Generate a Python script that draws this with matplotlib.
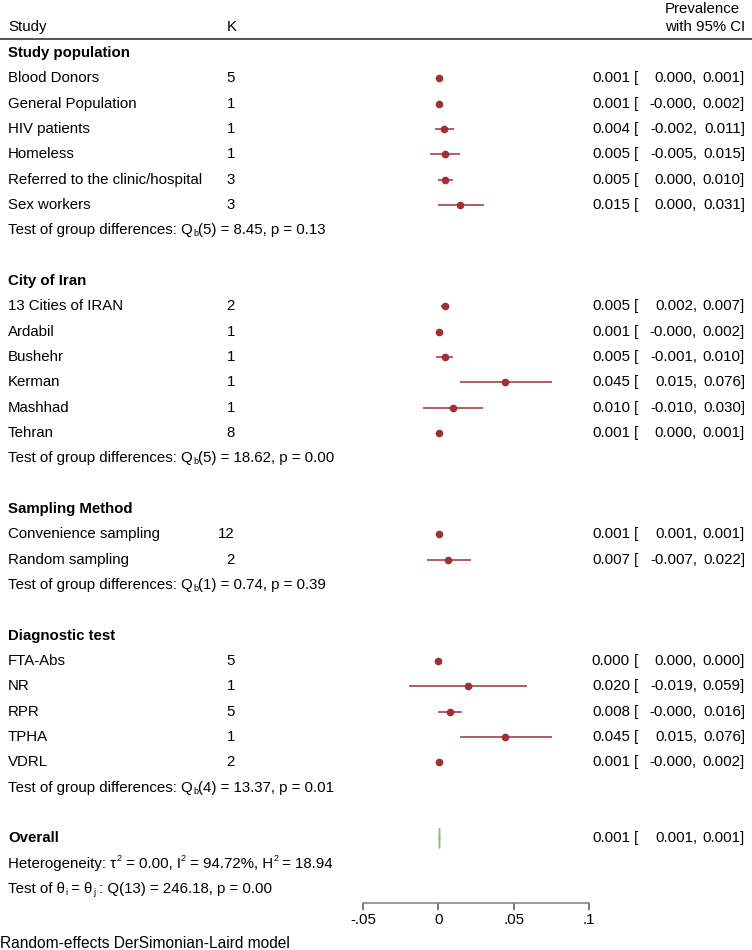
import matplotlib
matplotlib.use('Agg')
import matplotlib.pyplot as plt
from matplotlib.patches import Polygon

plt.rcParams['font.family'] = ['Liberation Sans', 'DejaVu Sans']

# subgroups of the forest plot
group_names = ['Study population', 'City of Iran', 'Sampling Method', 'Diagnostic test']

pop_labels = ['Blood Donors', 'General Population', 'HIV patients', 'Homeless',
              'Referred to the clinic/hospital', 'Sex workers']
pop_k = [5, 1, 1, 1, 3, 3]
pop_est = [0.001, 0.001, 0.004, 0.005, 0.005, 0.015]
pop_lo = ['0.000', '-0.000', '-0.002', '-0.005', '0.000', '0.000']
pop_hi = [0.001, 0.002, 0.011, 0.015, 0.010, 0.031]

city_labels = ['13 Cities of IRAN', 'Ardabil', 'Bushehr', 'Kerman', 'Mashhad', 'Tehran']
city_k = [2, 1, 1, 1, 1, 8]
city_est = [0.005, 0.001, 0.005, 0.045, 0.010, 0.001]
city_lo = ['0.002', '-0.000', '-0.001', '0.015', '-0.010', '0.000']
city_hi = [0.007, 0.002, 0.010, 0.076, 0.030, 0.001]

samp_labels = ['Convenience sampling', 'Random sampling']
samp_k = [12, 2]
samp_est = [0.001, 0.007]
samp_lo = ['0.001', '-0.007']
samp_hi = [0.001, 0.022]

diag_labels = ['FTA-Abs', 'NR', 'RPR', 'TPHA', 'VDRL']
diag_k = [5, 1, 5, 1, 2]
diag_est = [0.000, 0.020, 0.008, 0.045, 0.001]
diag_lo = ['0.000', '-0.019', '-0.000', '0.015', '-0.000']
diag_hi = [0.000, 0.059, 0.016, 0.076, 0.002]

# Qb(df) = value, p = value
group_df = [5, 5, 1, 4]
group_qb = ['8.45', '18.62', '0.74', '13.37']
group_p = ['0.13', '0.00', '0.39', '0.01']

overall_est, overall_lo, overall_hi = 0.001, '0.001', 0.001

groups = [
    (pop_labels, pop_k, pop_est, pop_lo, pop_hi),
    (city_labels, city_k, city_est, city_lo, city_hi),
    (samp_labels, samp_k, samp_est, samp_lo, samp_hi),
    (diag_labels, diag_k, diag_est, diag_lo, diag_hi),
]

W, H = 752, 950
fig = plt.figure(figsize=(W / 100, H / 100), dpi=100)
ax = fig.add_axes([0, 0, 1, 1])
ax.axis('off')

# pixel -> data mapping
x0, scale = 438, 1500.0
y0, step = 53, 25.33
ax.set_xlim(-x0 / scale, (W - x0) / scale)
ax.set_ylim((H - y0) / step, -y0 / step)

def px(x):
    return (x - x0) / scale

red = '#9e3036'
fs = 10.8
small = 6.5

def rich(x, y, parts):
    # parts: list of (string, kind) with kind 'n', 'sub' or 'sup'
    base = ax.text(x, y, parts[0][0], ha='left', va='center', fontsize=fs)
    prev = base
    for s, kind in parts[1:]:
        if kind == 'n':
            prev = ax.annotate(s, xy=(1, 0.5), xycoords=(prev, base),
                               ha='left', va='center', fontsize=fs)
        elif kind == 'sub':
            prev = ax.annotate(s, xy=(1, 0.5), xycoords=(prev, base),
                               xytext=(0.3, -2.6), textcoords='offset points',
                               ha='left', va='center', fontsize=small)
        else:
            prev = ax.annotate(s, xy=(1, 0.5), xycoords=(prev, base),
                               xytext=(0.3, 3.6), textcoords='offset points',
                               ha='left', va='center', fontsize=small)
    return base

def ci_text(row, est, lo, hi):
    ax.text(px(630), row, f'{est:.3f}', ha='right', va='center', fontsize=fs)
    ax.text(px(634), row, '[', ha='left', va='center', fontsize=fs)
    ax.text(px(697), row, lo + ',', ha='right', va='center', fontsize=fs)
    ax.text(px(745), row, f'{hi:.3f}]', ha='right', va='center', fontsize=fs)

# header
ax.text(px(8), (27 - y0) / step, 'Study', ha='left', va='center', fontsize=fs)
ax.text(px(227), (27 - y0) / step, 'K', ha='left', va='center', fontsize=fs)
ax.text(px(702), (9 - y0) / step, 'Prevalence', ha='center', va='center', fontsize=fs)
ax.text(px(745), (27 - y0) / step, 'with 95% CI', ha='right', va='center', fontsize=fs)
ax.plot([px(0), px(W)], [(39 - y0) / step] * 2, color='#333333', lw=1.2)

row = 0
for gi, (name, (labels, ks, est, lo, hi)) in enumerate(zip(group_names, groups)):
    ax.text(px(8), row, name, ha='left', va='center', fontsize=fs, fontweight='bold')
    row += 1
    for i in range(len(labels)):
        ax.text(px(8), row, labels[i], ha='left', va='center', fontsize=fs)
        ax.text(px(235), row, str(ks[i]), ha='right', va='center', fontsize=fs)
        ax.plot([float(lo[i]), hi[i]], [row, row], color=red, lw=1.1, solid_capstyle='butt')
        ax.plot(est[i], row, 'o', color=red, ms=4.5)
        ci_text(row, est[i], lo[i], hi[i])
        row += 1
    rich(px(8), row, [('Test of group differences: Q', 'n'), ('b', 'sub'),
                      (f'({group_df[gi]}) = {group_qb[gi]}, p = {group_p[gi]}', 'n')])
    row += 2

# overall
ax.text(px(8), row, 'Overall', ha='left', va='center', fontsize=fs, fontweight='bold')
d = 0.0003
ax.add_patch(Polygon([[float(overall_lo) - d, row], [overall_est, row - 0.4],
                      [overall_hi + d, row], [overall_est, row + 0.4]],
                     closed=True, color='#8fb87a'))
ci_text(row, overall_est, overall_lo, overall_hi)
rich(px(8), row + 1, [('Heterogeneity: \u03c4', 'n'), ('2', 'sup'), (' = 0.00, I', 'n'),
                      ('2', 'sup'), (' = 94.72%, H', 'n'), ('2', 'sup'), (' = 18.94', 'n')])
rich(px(8), row + 2, [('Test of \u03b8', 'n'), ('i', 'sub'), (' = \u03b8', 'n'), ('j', 'sub'),
                      (' : Q(13) = 246.18, p = 0.00', 'n')])

# x axis
axx = fig.add_axes([363 / W, 1 - 903 / H, (589 - 363) / W, 0.0001])
axx.set_xlim(-0.05, 0.1)
axx.set_ylim(0, 1)
for s in ['top', 'left', 'right']:
    axx.spines[s].set_visible(False)
axx.spines['bottom'].set_color('#888888')
axx.spines['bottom'].set_linewidth(1.2)
axx.set_yticks([])
axx.set_xticks([-0.05, 0, 0.05, 0.1])
axx.set_xticklabels(['-.05', '0', '.05', '.1'], fontsize=fs)
axx.tick_params(axis='x', length=5, width=1.1, color='#555555', pad=2)
axx.patch.set_visible(False)

fig.text(0 / W, 1 - 943 / H, 'Random-effects DerSimonian-Laird model',
         ha='left', va='center', fontsize=11.2)

fig.savefig('out.png', dpi=100)
